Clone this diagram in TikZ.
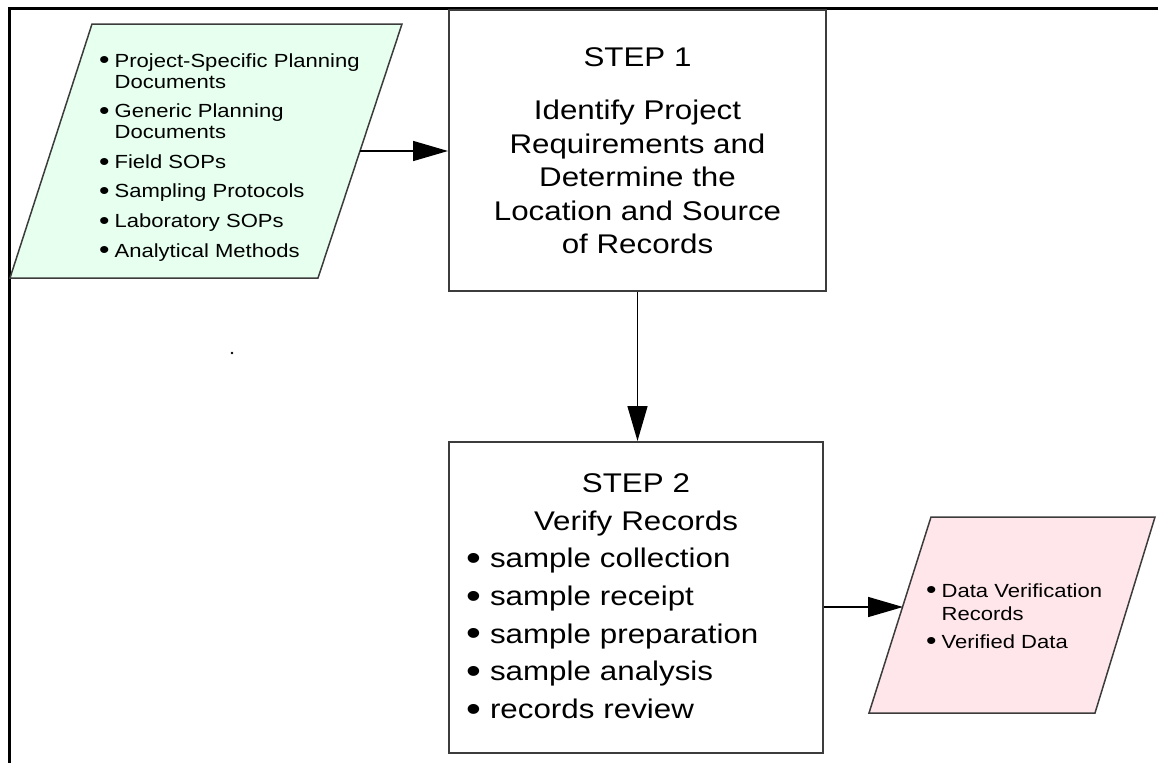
\documentclass[tikz,border=0pt]{standalone}
\usepackage{graphicx}
\usepackage{fontspec}
\setmainfont{Liberation Sans}[FakeStretch=1.16]
\usetikzlibrary{arrows.meta}

\definecolor{docgreen}{RGB}{230,255,238}
\definecolor{datapink}{RGB}{255,230,234}
\definecolor{boxgray}{RGB}{60,60,60}

\newcommand{\blt}{\raisebox{-0.1em}{\scalebox{1.35}{\textbullet}}}
\newcommand{\stepitem}{\makebox[18pt][l]{\hspace*{-6pt}\blt}}

\begin{document}
\begin{tikzpicture}[x=1pt,y=-1pt]
      \useasboundingbox (0,0) rectangle (1159,763);

      % page frame
      \draw[line width=3pt] (1158,8) -- (9,8) -- (9,763);
      \fill (232,353) circle (1.3pt);

      % input and output documents
      \begin{scope}[draw=boxgray,line width=1.5pt,line join=miter]
        \filldraw[fill=docgreen] (92,24) -- (402,24) -- (318,278) -- (10,278) -- cycle;
        \filldraw[fill=datapink] (931,517) -- (1155,517) -- (1095,713) -- (869,713) -- cycle;
      \end{scope}
      \coordinate (docsout) at (360,151);
      \coordinate (datain) at (903,607);

      \begin{scope}[every node/.style={rectangle,draw=boxgray,line width=2pt,inner sep=0pt}]
        \node[minimum width=377pt,minimum height=281pt,align=center,
          font=\fontsize{27}{33.5}\selectfont] (step1) at (637.5,150.5)
          {STEP 1\\[20pt]Identify Project\\Requirements and\\Determine the\\Location and Source\\of Records};
        \node[minimum width=374pt,minimum height=311pt,text width=328pt,align=left,
          font=\fontsize{27}{37.7}\selectfont] (step2) at (636,597.5)
          {{\centering STEP 2\\Verify Records\par}
           \stepitem sample collection\\
           \stepitem sample receipt\\
           \stepitem sample preparation\\
           \stepitem sample analysis\\
           \stepitem records review};
      \end{scope}

      \begin{scope}[every node/.style={inner sep=0pt,anchor=base west}]
        \node[font=\fontsize{19}{21}\selectfont] (doclist) at (99,67)
          {\begin{tabular}[t]{@{}l@{\hspace{5pt}}l@{}}
            \blt & Project-Specific Planning\\
                 & Documents\\[8.6pt]
            \blt & Generic Planning\\
                 & Documents\\[8.6pt]
            \blt & Field SOPs\\[8.6pt]
            \blt & Sampling Protocols\\[8.6pt]
            \blt & Laboratory SOPs\\[8.6pt]
            \blt & Analytical Methods
          \end{tabular}};
        \node[font=\fontsize{19}{23}\selectfont] (datalist) at (926,597)
          {\begin{tabular}[t]{@{}l@{\hspace{5pt}}l@{}}
            \blt & Data Verification\\
                 & Records\\[5pt]
            \blt & Verified Data
          \end{tabular}};
      \end{scope}

      \begin{scope}[>={Triangle[length=35pt,width=20pt]},
          every edge/.style={draw=black,line width=1.5pt}]
        \path [->] (docsout) edge (docsout -| step1.west);
        \path [->] (step1.south) edge (step1.south |- step2.north);
        \path [->] (datain -| step2.east) edge (datain);
      \end{scope}
    \end{tikzpicture}
\end{document}
